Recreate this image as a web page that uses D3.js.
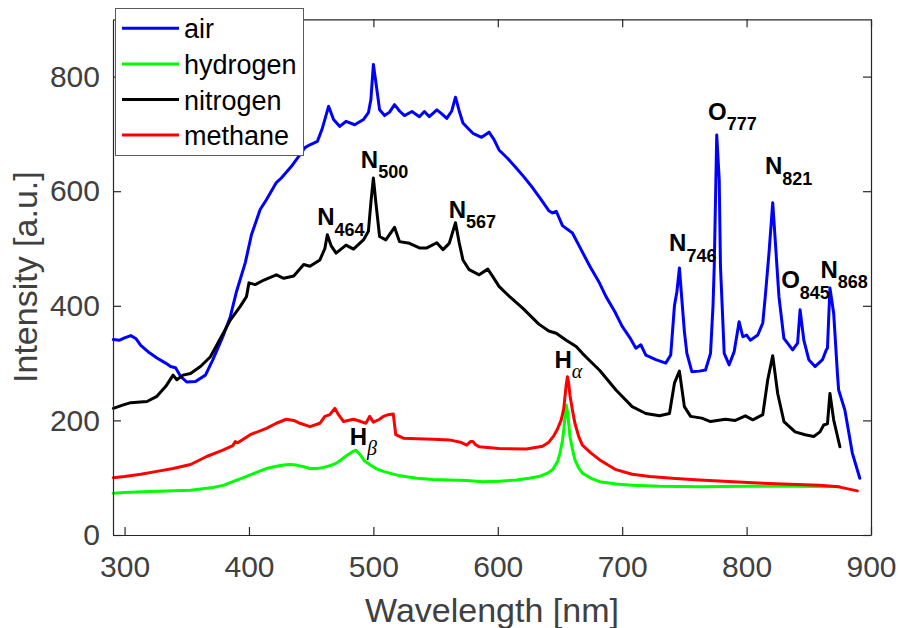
<!DOCTYPE html>
<html>
<head>
<meta charset="utf-8">
<script src="https://cdn.jsdelivr.net/npm/d3@7"></script>
<style>
  body { margin: 0; background: #fff; }
  svg { display: block; }
</style>
</head>
<body>
<div id="chart-container"></div>
<script>
// Spectra: [wavelength nm, intensity a.u.]
var air = [[291,341],[296,340],[300,344],[305,348],[309,343],[313,331],[320,318],[326,309],[333,300],[337,294],[341,292],[345,277],[350,267],[357,268],[365,279],[371,306],[379,346],[385,381],[390,425],[397,475],[402,524],[409,568],[414,585],[422,615],[426,623],[434,643],[441,664],[445,676],[449,681],[455,687],[459,710],[464,748],[468,725],[473,713],[478,722],[485,716],[492,725],[496,737],[498,760],[500,821],[502,790],[505,742],[509,732],[513,738],[517,751],[521,740],[525,732],[531,739],[537,730],[541,739],[545,730],[551,742],[555,735],[559,727],[563,740],[566,764],[569,740],[572,719],[576,710],[580,701],[587,694],[593,703],[597,690],[601,672],[608,657],[615,640],[621,625],[628,606],[634,588],[641,566],[644,562],[647,565],[652,540],[660,527],[667,498],[674,469],[681,443],[687,416],[694,390],[700,364],[706,345],[711,326],[715,332],[719,314],[727,306],[735,300],[739,314],[742,400],[744,425],[746,466],[748,410],[750,355],[752,317],[756,285],[762,286],[767,288],[771,317],[773,400],[774,469],[776,698],[778,620],[779,469],[782,317],[786,297],[790,320],[794,372],[797,346],[800,349],[803,340],[809,349],[813,370],[815,416],[818,492],[821,580],[823,515],[826,416],[830,343],[837,323],[841,335],[843,393],[846,340],[850,306],[855,294],[861,306],[864,323],[865,326],[867,431],[870,387],[873,282],[874,253],[879,218],[885,143],[891,99]];

var hydrogen = [[291,73],[300,74],[320,76],[353,78],[371,83],[380,87],[387,93],[394,99],[401,105],[408,111],[414,116],[422,120],[428,122],[433,123],[438,122],[444,119],[449,116],[455,116],[460,118],[465,121],[470,125],[474,131],[478,138],[483,145],[486,148],[489,141],[493,129],[497,123],[502,116],[508,111],[513,108],[520,104],[535,99],[548,97],[561,96],[575,95],[588,93],[601,94],[615,96],[625,99],[633,102],[640,108],[644,114],[648,128],[650,143],[652,165],[653,183],[654,205],[655,227],[656,215],[657,195],[658,172],[660,150],[662,131],[665,117],[668,108],[675,99],[682,93],[695,89],[708,87],[730,85],[762,84],[800,85],[840,85],[875,84]];

var nitrogen = [[291,221],[299,227],[305,231],[318,233],[326,242],[333,259],[339,279],[342,271],[347,279],[353,282],[361,294],[369,311],[377,343],[385,375],[393,399],[398,416],[400,440],[405,437],[412,445],[422,454],[428,448],[436,452],[444,472],[449,469],[457,480],[461,500],[463,524],[466,505],[470,492],[478,506],[484,499],[492,515],[496,530],[498,580],[500,623],[502,580],[505,521],[510,515],[517,537],[521,512],[529,509],[537,501],[543,501],[551,510],[556,498],[561,509],[566,545],[569,510],[572,480],[577,463],[585,454],[592,464],[596,451],[601,434],[610,415],[620,396],[633,368],[641,356],[647,352],[655,340],[663,329],[668,317],[675,302],[682,287],[695,253],[708,224],[719,212],[730,208],[738,212],[742,265],[746,286],[750,224],[755,207],[764,204],[771,198],[783,202],[791,200],[799,208],[805,201],[813,210],[817,271],[821,313],[825,247],[830,198],[839,180],[847,175],[854,172],[859,180],[862,192],[865,194],[867,247],[870,201],[875,154]];

var methane = [[291,100],[300,102],[313,106],[326,111],[339,116],[353,123],[366,137],[379,148],[387,156],[389,163],[391,161],[401,175],[414,186],[422,195],[430,202],[436,200],[441,195],[449,189],[457,195],[461,207],[465,210],[469,221],[472,210],[476,198],[484,202],[490,198],[494,195],[497,207],[500,197],[505,202],[508,207],[512,210],[516,211],[518,175],[524,169],[535,168],[548,167],[561,166],[570,162],[575,157],[578,163],[580,163],[582,158],[585,154],[601,151],[623,150],[636,155],[641,162],[645,173],[648,185],[651,201],[653,220],[654,241],[655,262],[656,276],[657,265],[658,244],[660,218],[662,195],[665,172],[668,157],[675,143],[682,131],[695,114],[708,106],[722,102],[740,99],[762,96],[805,91],[858,87],[874,84],[889,77]];

var seriesNames = ["air", "hydrogen", "nitrogen", "methane"];
var seriesColors = ["#0000ff", "#00ff00", "#000000", "#ff0000"];
var seriesData = [air, hydrogen, nitrogen, methane];

var xTicks = [300, 400, 500, 600, 700, 800, 900];
var yTicks = [0, 200, 400, 600, 800];

// peak labels: main letter, subscript, anchor (nm, intensity) of the letter's baseline start
var peakMain = ["N", "N", "N", "N", "O", "N", "O", "N"];
var peakSub = ["464", "500", "567", "746", "777", "821", "845", "868"];
var peakX = [454.8, 489.9, 560.5, 737.7, 769.0, 814.7, 827.8, 859.4];
var peakY = [541, 641, 554, 495, 725, 630, 431, 449];

var hMain = ["H", "H"];
var hSub = ["\u03b1", "\u03b2"];
var hX = [645.5, 481];
var hY = [291, 157];

var W = 898, H = 628;
var font = "'Liberation Sans', Arial, Helvetica, sans-serif";
var axisColor = "#262626";
var textColor = "#404040";

var svg = d3.select("#chart-container")
  .append("svg")
  .attr("width", W)
  .attr("height", H);

var x = d3.scaleLinear().domain([290.7, 900]).range([113, 871]);
var y = d3.scaleLinear().domain([0, 900]).range([535, 19.3]);

// series
var line = d3.line()
  .x(function(d) { return x(d[0]); })
  .y(function(d) { return y(d[1]); });

seriesData.forEach(function(s, i) {
  svg.append("path")
    .datum(s)
    .attr("d", line)
    .style("fill", "none")
    .style("stroke", seriesColors[i])
    .style("stroke-width", 3)
    .style("stroke-linejoin", "round")
    .style("stroke-linecap", "round");
});

// axes (box with inward ticks)
function styleAxis(g) {
  g.select(".domain").attr("stroke", axisColor).attr("stroke-width", 1.2);
  g.selectAll(".tick line").attr("stroke", axisColor).attr("stroke-width", 1.2);
  g.selectAll(".tick text")
    .attr("fill", textColor)
    .style("font-family", font)
    .style("font-size", "30px");
}

svg.append("g")
  .attr("transform", "translate(0," + y(0) + ")")
  .call(d3.axisBottom(x).tickValues(xTicks).tickSizeInner(-8).tickSizeOuter(0).tickPadding(21))
  .call(styleAxis);

svg.append("g")
  .attr("transform", "translate(0," + y(900) + ")")
  .call(d3.axisTop(x).tickValues(xTicks).tickSizeInner(-8).tickSizeOuter(0).tickFormat(""))
  .call(styleAxis);

svg.append("g")
  .attr("transform", "translate(" + x(290.7) + ",0)")
  .call(d3.axisLeft(y).tickValues(yTicks).tickSizeInner(-8).tickSizeOuter(0).tickPadding(13))
  .call(styleAxis);

svg.append("g")
  .attr("transform", "translate(" + x(900) + ",0)")
  .call(d3.axisRight(y).tickValues(yTicks).tickSizeInner(-8).tickSizeOuter(0).tickFormat(""))
  .call(styleAxis);

// axis titles
svg.append("text")
  .attr("x", (x.range()[0] + x.range()[1]) / 2)
  .attr("y", 622)
  .attr("text-anchor", "middle")
  .attr("fill", textColor)
  .style("font-family", font)
  .style("font-size", "34px")
  .text("Wavelength [nm]");

svg.append("text")
  .attr("transform", "translate(37," + (y.range()[0] + y.range()[1]) / 2 + ") rotate(-90)")
  .attr("text-anchor", "middle")
  .attr("fill", textColor)
  .style("font-family", font)
  .style("font-size", "34px")
  .text("Intensity [a.u.]");

// peak labels
peakMain.forEach(function(m, i) {
  var t = svg.append("text")
    .attr("x", x(peakX[i]))
    .attr("y", y(peakY[i]))
    .style("font-family", font)
    .style("font-weight", "bold")
    .style("font-size", "24px")
    .attr("fill", "#000");
  t.append("tspan").text(m);
  t.append("tspan").attr("dy", 10.5).style("font-size", "18px").text(peakSub[i]);
});

hMain.forEach(function(m, i) {
  var t = svg.append("text")
    .attr("x", x(hX[i]))
    .attr("y", y(hY[i]))
    .style("font-family", font)
    .style("font-weight", "bold")
    .style("font-size", "24px")
    .attr("fill", "#000");
  t.append("tspan").text(m);
  t.append("tspan").attr("dy", 10)
    .style("font-family", "'Liberation Serif', 'Times New Roman', serif")
    .style("font-style", "italic")
    .style("font-weight", "normal")
    .style("font-size", "20px")
    .text(hSub[i]);
});

// legend
var legend = svg.append("g").attr("class", "legend");
legend.append("rect")
  .attr("x", 115.5)
  .attr("y", 8.5)
  .attr("width", 188)
  .attr("height", 147)
  .attr("fill", "#fff")
  .attr("stroke", "#5a5a5a")
  .attr("stroke-width", 1);

var item = legend.selectAll(".item")
  .data(seriesNames)
  .enter().append("g")
  .attr("class", "item")
  .attr("transform", function(d, i) { return "translate(0," + (28.3 + i * 35.6) + ")"; });

item.append("line")
  .attr("x1", 122).attr("x2", 179)
  .attr("y1", 0).attr("y2", 0)
  .style("stroke", function(d, i) { return seriesColors[i]; })
  .style("stroke-width", 3);

item.append("text")
  .attr("x", 184)
  .attr("y", 10)
  .attr("fill", "#000")
  .style("font-family", font)
  .style("font-size", "27px")
  .text(function(d) { return d; });
</script>
</body>
</html>
